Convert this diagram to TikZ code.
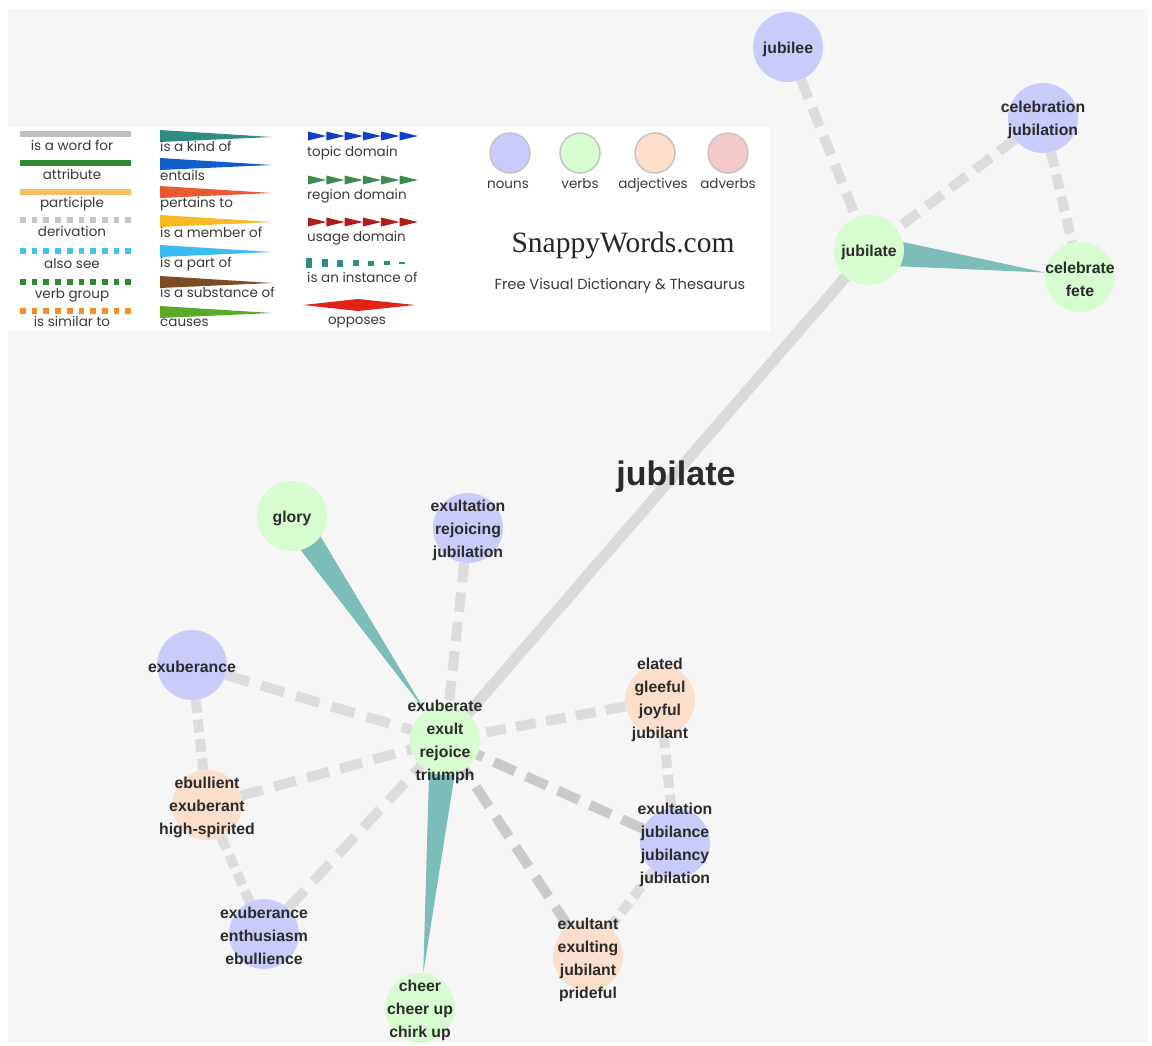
\documentclass[tikz,border=0pt]{standalone}
\usepackage{fontspec}
\setmainfont{Liberation Sans}
\newfontfamily\legfont{Poppins}
\newfontfamily\logofont{Liberation Serif}
\usetikzlibrary{calc}
\pgfdeclarelayer{bglayer}
\pgfdeclarelayer{edgelayer}
\pgfsetlayers{bglayer,edgelayer,main}
\definecolor{bggrey}{HTML}{F6F6F6}
\definecolor{nounc}{HTML}{C9CCFB}
\definecolor{verbc}{HTML}{D7FCD0}
\definecolor{adjc}{HTML}{FBDFCC}
\definecolor{advc}{HTML}{F5C9C9}
\definecolor{edgelight}{HTML}{DCDCDC}
\definecolor{edgedark}{HTML}{CACACA}
\definecolor{wordforc}{HTML}{DADADA}
\definecolor{tealc}{HTML}{7CBDBA}
\definecolor{txt}{HTML}{2B2B2B}
\definecolor{legtxt}{HTML}{3A3A3A}
\definecolor{lgword}{HTML}{C0C0C0}
\definecolor{lgattr}{HTML}{2F8A2F}
\definecolor{lgpart}{HTML}{F6BD5E}
\definecolor{lgderiv}{HTML}{C4C4C4}
\definecolor{lgalso}{HTML}{40C2F2}
\definecolor{lgverb}{HTML}{2E8A2E}
\definecolor{lgsim}{HTML}{F29020}
\definecolor{kkind}{HTML}{2F8C82}
\definecolor{kent}{HTML}{0F5EC9}
\definecolor{kpert}{HTML}{EA5A32}
\definecolor{kmem}{HTML}{F8B922}
\definecolor{kpart}{HTML}{3CBCF5}
\definecolor{ksub}{HTML}{7B4D25}
\definecolor{kcause}{HTML}{5AAA28}
\definecolor{dtopic}{HTML}{1040C8}
\definecolor{dregion}{HTML}{3D8C4F}
\definecolor{dusage}{HTML}{B01C1C}
\definecolor{dopp}{HTML}{E2231A}
\begin{document}
\begin{tikzpicture}[x=1pt,y=-1pt,
  wcirc/.style={circle,minimum size=70pt,inner sep=0pt},
  noun/.style={wcirc,fill=nounc},
  verb/.style={wcirc,fill=verbc},
  adj/.style={wcirc,fill=adjc},
  lbl/.style={font=\bfseries\fontsize{15.8}{23}\selectfont,align=center,text=txt,inner sep=0pt,yshift=-2pt},
  deriv/.style={draw=edgelight,line width=10pt},
  derivd/.style={draw=edgedark,line width=10pt},
  wordfor/.style={draw=wordforc,line width=11pt},
  kindof/.style={fill=tealc},
  legtext/.style={font=\legfont\fontsize{13.5}{15}\selectfont,text=legtxt,inner sep=0pt,yshift=-2pt},
  legline/.style={line width=6pt},
  legdash/.style={line width=6pt,dash pattern=on 5.7pt off 6pt},
  legcirc/.style={circle,minimum size=40pt,inner sep=0pt,draw=lgderiv,line width=1.5pt}
]
\useasboundingbox (0,0) rectangle (1152,1045);
\begin{pgfonlayer}{bglayer}
  \fill[white] (0,0) rectangle (1152,1045);
  \fill[bggrey] (8,9) rectangle (1148,1042);
  \fill[white] (8,127) rectangle (770,331);
\end{pgfonlayer}

% ---------- graph nodes ----------
\node[noun] (JL) at (788,47) {};
\node[noun] (CJ) at (1043,118) {};
\node[verb] (J)  at (869,250) {};
\node[verb] (CF) at (1080,277) {};
\node[verb] (G)  at (292,516) {};
\node[noun] (ERJ) at (468,528) {};
\node[noun] (EX) at (192,665) {};
\node[adj]  (EL) at (660,700) {};
\node[verb] (A)  at (445,740) {};
\node[adj]  (EB) at (207,805) {};
\node[noun] (EJ) at (675,843) {};
\node[noun] (EE) at (264,934) {};
\node[adj]  (ET) at (588,956) {};
\node[verb] (CH) at (420,1008) {};

% ---------- connectors ----------
\begin{pgfonlayer}{edgelayer}
  \draw[wordfor] (A) -- (J);
  \draw[deriv, dash pattern=on 20pt off 10.4pt] (JL) -- (J);
  \draw[deriv, dash pattern=on 20pt off 10.3pt] (CJ) -- (J);
  \draw[deriv, dash pattern=on 15pt off 7.7pt] (CJ) -- (CF);
  \draw[deriv, dash pattern=on 19.5pt off 10.1pt] (ERJ) -- (A);
  \draw[deriv, dash pattern=on 24.2pt off 12.5pt] (EX) -- (A);
  \draw[deriv, dash pattern=on 12.9pt off 6.7pt] (EX) -- (EB);
  \draw[deriv, dash pattern=on 22.6pt off 11.7pt] (EB) -- (A);
  \draw[deriv, dash pattern=on 12.9pt off 6.7pt] (EB) -- (EE);
  \draw[deriv, dash pattern=on 24.3pt off 12.5pt] (EE) -- (A);
  \draw[deriv, dash pattern=on 20pt off 10.4pt] (EL) -- (A);
  \draw[deriv, dash pattern=on 13.2pt off 6.8pt] (EL) -- (EJ);
  \draw[derivd, dash pattern=on 23.1pt off 11.9pt] (EJ) -- (A);
  \draw[deriv, dash pattern=on 13pt off 6.8pt] (EJ) -- (ET);
  \draw[derivd, dash pattern=on 23.7pt off 12.3pt] (ET) -- (A);
  \fill[kindof] ($(G.center)!14pt!90:(A.center)$) -- ($(G.center)!14pt!-90:(A.center)$) -- ($(A.center)!35pt!(G.center)$) -- cycle;
  \fill[kindof] ($(A.center)!15pt!90:(CH.center)$) -- ($(A.center)!15pt!-90:(CH.center)$) -- ($(CH.center)!35pt!(A.center)$) -- cycle;
  \fill[kindof] ($(J.center)!15pt!90:(CF.center)$) -- ($(J.center)!15pt!-90:(CF.center)$) -- ($(CF.center)!35pt!(J.center)$) -- cycle;
\end{pgfonlayer}

% ---------- labels ----------
\node[lbl] (JLt) at (JL) {jubilee};
\node[lbl] (CJt) at (CJ) {celebration\\jubilation};
\node[lbl] (Jt) at (J) {jubilate};
\node[lbl] (CFt) at (CF) {celebrate\\fete};
\node[lbl] (Gt) at (G) {glory};
\node[lbl] (ERJt) at (ERJ) {exultation\\rejoicing\\jubilation};
\node[lbl] (EXt) at (EX) {exuberance};
\node[lbl] (ELt) at (660,698) {elated\\gleeful\\joyful\\jubilant};
\node[lbl] (At) at (A) {exuberate\\exult\\rejoice\\triumph};
\node[lbl] (EBt) at (EB) {ebullient\\exuberant\\high-spirited};
\node[lbl] (EJt) at (EJ) {exultation\\jubilance\\jubilancy\\jubilation};
\node[lbl] (EEt) at (EE) {exuberance\\enthusiasm\\ebullience};
\node[lbl] (ETt) at (588,958) {exultant\\exulting\\jubilant\\prideful};
\node[lbl] (CHt) at (CH) {cheer\\cheer up\\chirk up};
\node[font=\bfseries\fontsize{34}{40}\selectfont,text=txt,anchor=base,inner sep=0pt] (title) at (676,485) {jubilate};

% ---------- legend, column 1 ----------
\draw[legline,draw=lgword] (20,134) -- (131,134);
\node[legtext,anchor=mid] (l1) at (72,146) {is a word for};
\draw[legline,draw=lgattr] (20,163) -- (131,163);
\node[legtext,anchor=mid] (l2) at (72,175) {attribute};
\draw[legline,draw=lgpart] (20,192) -- (131,192);
\node[legtext,anchor=mid] (l3) at (72,203) {participle};
\draw[legdash,draw=lgderiv] (20,220) -- (131,220);
\node[legtext,anchor=mid] (l4) at (72,232) {derivation};
\draw[legdash,draw=lgalso] (20,251) -- (131,251);
\node[legtext,anchor=mid] (l5) at (72,264) {also see};
\draw[legdash,draw=lgverb] (20,282) -- (131,282);
\node[legtext,anchor=mid] (l6) at (72,294) {verb group};
\draw[legdash,draw=lgsim] (20,311) -- (131,311);
\node[legtext,anchor=mid] (l7) at (72,322) {is similar to};

% ---------- legend, column 2 ----------
\fill[kkind]  (160,130) -- (160,142) -- (272,137) -- cycle;
\node[legtext,anchor=mid west] (k1) at (160,147) {is a kind of};
\fill[kent]   (160,158) -- (160,170) -- (272,165) -- cycle;
\node[legtext,anchor=mid west] (k2) at (160,176) {entails};
\fill[kpert]  (160,186) -- (160,198) -- (272,193) -- cycle;
\node[legtext,anchor=mid west] (k3) at (160,203) {pertains to};
\fill[kmem]   (160,215) -- (160,227) -- (272,222) -- cycle;
\node[legtext,anchor=mid west] (k4) at (160,233) {is a member of};
\fill[kpart]  (160,245) -- (160,257) -- (272,252) -- cycle;
\node[legtext,anchor=mid west] (k5) at (160,263) {is a part of};
\fill[ksub]   (160,276) -- (160,288) -- (272,283) -- cycle;
\node[legtext,anchor=mid west] (k6) at (160,293) {is a substance of};
\fill[kcause] (160,306) -- (160,318) -- (272,313) -- cycle;
\node[legtext,anchor=mid west] (k7) at (160,322) {causes};

% ---------- legend, column 3 ----------
\foreach \i in {0,...,5} {
  \fill[dtopic]  ({308+\i*18.3},131.5) -- ({308+\i*18.3},140.5) -- ({326.3+\i*18.3},136) -- cycle;
  \fill[dregion] ({308+\i*18.3},175.5) -- ({308+\i*18.3},184.5) -- ({326.3+\i*18.3},180) -- cycle;
  \fill[dusage]  ({308+\i*18.3},217.5) -- ({308+\i*18.3},226.5) -- ({326.3+\i*18.3},222) -- cycle;
}
\node[legtext,anchor=mid west] (d1) at (307,152) {topic domain};
\node[legtext,anchor=mid west] (d2) at (307,195) {region domain};
\node[legtext,anchor=mid west] (d3) at (307,237) {usage domain};
\foreach \i/\h in {0/10,1/8.5,2/7,3/6,4/5,5/3.6,6/2.6} {
  \fill[kkind] ({306+\i*15.5},{263-\h/2}) rectangle ({312+\i*15.5},{263+\h/2});
}
\node[legtext,anchor=mid west] (d4) at (307,278) {is an instance of};
\fill[dopp] (303,305) -- (358,299) -- (415,305) -- (358,311) -- cycle;
\node[legtext,anchor=mid] (d5) at (357,320) {opposes};

% ---------- legend, column 4 ----------
\node[legcirc,fill=nounc] (c1) at (510,153) {};
\node[legcirc,fill=verbc] (c2) at (580,153) {};
\node[legcirc,fill=adjc]  (c3) at (655,153) {};
\node[legcirc,fill=advc]  (c4) at (728,153) {};
\node[legtext,anchor=mid] (c1t) at (508,184) {nouns};
\node[legtext,anchor=mid] (c2t) at (580,184) {verbs};
\node[legtext,anchor=mid] (c3t) at (653,184) {adjectives};
\node[legtext,anchor=mid] (c4t) at (728,184) {adverbs};
\node[font=\logofont\fontsize{29.5}{32}\selectfont,text=black!85,anchor=base,inner sep=0pt] (logo) at (623,252) {SnappyWords.com};
\node[legtext,anchor=mid,font=\legfont\fontsize{14.6}{16}\selectfont] (tag) at (620,285) {Free Visual Dictionary \& Thesaurus};
\end{tikzpicture}
\end{document}
